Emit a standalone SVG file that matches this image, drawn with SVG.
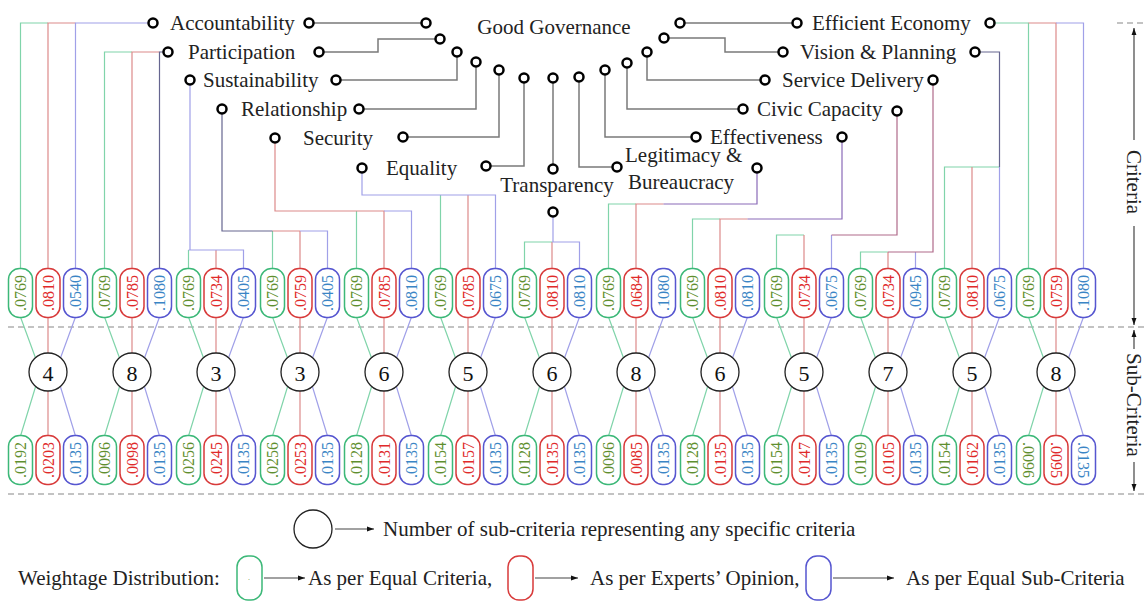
<svg xmlns="http://www.w3.org/2000/svg" xmlns:xlink="http://www.w3.org/1999/xlink" width="1145" height="607" viewBox="0 0 1145 607" font-family="'Liberation Serif', 'Times New Roman', serif">
<style>
text{font-family:"Liberation Serif","Times New Roman",serif;fill:#222}
.lb{font-size:21px}
.n{font-size:16px;text-anchor:middle;dominant-baseline:central}
.cn{font-size:22px;text-anchor:middle;dominant-baseline:central;fill:#111}
.g{stroke:#3cb878;fill:#fff;stroke-width:1.5}
.r{stroke:#d83a3a;fill:#fff;stroke-width:1.5}
.b{stroke:#5656d0;fill:#fff;stroke-width:1.5}
.tg{fill:#5f8f2f}.tr{fill:#e02a2a}.tb{fill:#3a85c5}
.cg,.cr,.cb,.cp,.cm,.cd{fill:none;stroke-width:1.2}
.cg{stroke:#80d4aa}.cr{stroke:#dc8a8a}.cb{stroke:#a0a0e8}.cp{stroke:#8a6ab8}.cm{stroke:#b06a8a}.cd{stroke:#666690}
.tree{fill:none;stroke:#7a7a7a;stroke-width:1.5}
.nd{fill:#fff;stroke:#000;stroke-width:2.5}
.big{fill:#fff;stroke:#222;stroke-width:1.3}
.dash{stroke:#888;stroke-width:1.2;stroke-dasharray:6 4}
.ar{stroke:#444;stroke-width:1.2;fill:none}
</style>
<defs>
<rect id="bx" x="-12" y="-24.5" width="24" height="49" rx="11"/>
<marker id="ah" viewBox="0 0 10 10" refX="10" refY="5" markerWidth="7" markerHeight="7" orient="auto" markerUnits="userSpaceOnUse"><path d="M0,1.5 L10,5 L0,8.5 z" fill="#111"/></marker>
</defs>
<rect width="1145" height="607" fill="#fff"/>

<g id="separators">
<path class="dash" d="M8 327 H1145 M8 494 H1145 M1117 23 H1145"/>
</g>

<g id="connectors">
<path class="tree" d="M313 23 H421 M323 52 H378 V39 H435 M340 80 H457 V57 M363 109 H476 V67 M407 137 H499 V75 M490 166 H524 V83 M553 83 V164 M579 82 V167 H612 M605 75 V137 H691 M627 68 V109 H738 M647 57 V80 H760 M669 38 H725 V52 H778 M685 23 H792"/>
<path class="cg" d="M20.5 269 V23 H48 M104.5 269 V52 H132 M188.5 269 V250 M272.5 269 V231 M356.5 269 V211 M440.5 269 V195 M524.5 269 V242 H552 M608.5 269 V204 H636 M692.5 269 V219 H720 M776.5 269 V235 H804 M860.5 269 V252 H888 M944.5 269 V167 H999.5 M1028.5 269 V23 H994.5"/>
<path class="cr" d="M48 269 V23 H75.5 M132 269 V52 H159.5 M216 269 V250 M300 269 V231 M275 143 V211 H384 V269 M468 269 V195 M552 269 V242 M636 269 V204 H663.5 M720 269 V219 H747.5 M804 269 V235 M888 269 V252 M972 269 V167 M1056 269 V23 H1028.5 M272.5 231 H300"/>
<path class="cb" d="M75.5 269 V23 H148.5 M190 85 V250 M188.5 250 H243.5 V269 M300 231 H327.5 V269 M384 211 H411.5 V269 M362 173 V195 H495.5 V269 M552 242 H579.5 V269 M553 217 V242 M831.5 269 V235 M915.5 269 V252 M999.5 167 V269 M1083.5 269 V23 H1056"/>
<path class="cd" d="M159.5 269 V52 H163.5 M222 114 V231 H272.5 M979.5 52 H999.5 V167"/>
<path class="cp" d="M757 173 V204 H663.5 M842 142 V219 H747.5"/>
<path class="cm" d="M897 116 V235 H831.5 M933 85 V252 H888"/>
<path class="cg" d="M20.5 317 l16.5 45 M20.5 436 l16.5 -54 M104.5 317 l16.5 45 M104.5 436 l16.5 -54 M188.5 317 l16.5 45 M188.5 436 l16.5 -54 M272.5 317 l16.5 45 M272.5 436 l16.5 -54 M356.5 317 l16.5 45 M356.5 436 l16.5 -54 M440.5 317 l16.5 45 M440.5 436 l16.5 -54 M524.5 317 l16.5 45 M524.5 436 l16.5 -54 M608.5 317 l16.5 45 M608.5 436 l16.5 -54 M692.5 317 l16.5 45 M692.5 436 l16.5 -54 M776.5 317 l16.5 45 M776.5 436 l16.5 -54 M860.5 317 l16.5 45 M860.5 436 l16.5 -54 M944.5 317 l16.5 45 M944.5 436 l16.5 -54 M1028.5 317 l16.5 45 M1028.5 436 l16.5 -54"/>
<path class="cr" d="M48 317 V436 M132 317 V436 M216 317 V436 M300 317 V436 M384 317 V436 M468 317 V436 M552 317 V436 M636 317 V436 M720 317 V436 M804 317 V436 M888 317 V436 M972 317 V436 M1056 317 V436"/>
<path class="cb" d="M75.5 317 l-16.5 45 M75.5 436 l-16.5 -54 M159.5 317 l-16.5 45 M159.5 436 l-16.5 -54 M243.5 317 l-16.5 45 M243.5 436 l-16.5 -54 M327.5 317 l-16.5 45 M327.5 436 l-16.5 -54 M411.5 317 l-16.5 45 M411.5 436 l-16.5 -54 M495.5 317 l-16.5 45 M495.5 436 l-16.5 -54 M579.5 317 l-16.5 45 M579.5 436 l-16.5 -54 M663.5 317 l-16.5 45 M663.5 436 l-16.5 -54 M747.5 317 l-16.5 45 M747.5 436 l-16.5 -54 M831.5 317 l-16.5 45 M831.5 436 l-16.5 -54 M915.5 317 l-16.5 45 M915.5 436 l-16.5 -54 M999.5 317 l-16.5 45 M999.5 436 l-16.5 -54 M1083.5 317 l-16.5 45 M1083.5 436 l-16.5 -54"/>
</g>

<g id="good-governance">
<text class="lb" x="554" y="34" text-anchor="middle">Good Governance</text>
<circle class="nd" cx="426" cy="23" r="4.5"/><circle class="nd" cx="440" cy="39" r="4.5"/><circle class="nd" cx="457" cy="52" r="4.5"/><circle class="nd" cx="476" cy="62" r="4.5"/><circle class="nd" cx="499" cy="70" r="4.5"/><circle class="nd" cx="524" cy="78" r="4.5"/><circle class="nd" cx="553" cy="78" r="4.5"/><circle class="nd" cx="579" cy="77" r="4.5"/><circle class="nd" cx="605" cy="70" r="4.5"/><circle class="nd" cx="627" cy="63" r="4.5"/><circle class="nd" cx="647" cy="52" r="4.5"/><circle class="nd" cx="664" cy="38" r="4.5"/><circle class="nd" cx="680" cy="23" r="4.5"/>
</g>

<g id="c-accountability"><circle class="nd" cx="153" cy="23" r="4.5"/><text class="lb" x="170" y="30">Accountability</text><circle class="nd" cx="309" cy="23" r="4.5"/></g>
<g id="c-participation"><circle class="nd" cx="168" cy="52" r="4.5"/><text class="lb" x="188" y="59">Participation</text><circle class="nd" cx="319" cy="52" r="4.5"/></g>
<g id="c-sustainability"><circle class="nd" cx="190" cy="80" r="4.5"/><text class="lb" x="203" y="87">Sustainability</text><circle class="nd" cx="336" cy="80" r="4.5"/></g>
<g id="c-relationship"><circle class="nd" cx="222" cy="109" r="4.5"/><text class="lb" x="241" y="116">Relationship</text><circle class="nd" cx="359" cy="109" r="4.5"/></g>
<g id="c-security"><circle class="nd" cx="275" cy="138" r="4.5"/><text class="lb" x="303" y="145">Security</text><circle class="nd" cx="403" cy="137" r="4.5"/></g>
<g id="c-equality"><circle class="nd" cx="362" cy="168" r="4.5"/><text class="lb" x="386" y="175">Equality</text><circle class="nd" cx="486" cy="166" r="4.5"/></g>
<g id="c-transparency"><circle class="nd" cx="553" cy="169" r="4.5"/><text class="lb" x="557" y="192" text-anchor="middle">Transparency</text><circle class="nd" cx="553" cy="212" r="4.5"/></g>
<g id="c-legitimacy"><circle class="nd" cx="617" cy="167" r="4.5"/><text class="lb" x="625" y="162">Legitimacy &amp;</text><text class="lb" x="628" y="189">Bureaucracy</text><circle class="nd" cx="757" cy="168" r="4.5"/></g>
<g id="c-effectiveness"><circle class="nd" cx="696" cy="137" r="4.5"/><text class="lb" x="710" y="144">Effectiveness</text><circle class="nd" cx="842" cy="137" r="4.5"/></g>
<g id="c-civic"><circle class="nd" cx="743" cy="109" r="4.5"/><text class="lb" x="757" y="116">Civic Capacity</text><circle class="nd" cx="897" cy="111" r="4.5"/></g>
<g id="c-service"><circle class="nd" cx="765" cy="80" r="4.5"/><text class="lb" x="782" y="87">Service Delivery</text><circle class="nd" cx="933" cy="80" r="4.5"/></g>
<g id="c-vision"><circle class="nd" cx="783" cy="52" r="4.5"/><text class="lb" x="800" y="59">Vision &amp; Planning</text><circle class="nd" cx="975" cy="52" r="4.5"/></g>
<g id="c-economy"><circle class="nd" cx="797" cy="23" r="4.5"/><text class="lb" x="812" y="30">Efficient Economy</text><circle class="nd" cx="990" cy="23" r="4.5"/></g>

<g id="col1">
<use href="#bx" class="g" x="20.5" y="293"/><text class="n tg" transform="translate(20.5,293) rotate(-90)">.0769</text>
<use href="#bx" class="r" x="48" y="293"/><text class="n tr" transform="translate(48,293) rotate(-90)">.0810</text>
<use href="#bx" class="b" x="75.5" y="293"/><text class="n tb" transform="translate(75.5,293) rotate(-90)">.0540</text>
<circle class="big" cx="48" cy="372" r="19"/><text class="cn" x="48" y="373">4</text>
<use href="#bx" class="g" x="20.5" y="460"/><text class="n tg" transform="translate(20.5,460) rotate(-90)">.0192</text>
<use href="#bx" class="r" x="48" y="460"/><text class="n tr" transform="translate(48,460) rotate(-90)">.0203</text>
<use href="#bx" class="b" x="75.5" y="460"/><text class="n tb" transform="translate(75.5,460) rotate(-90)">.0135</text>
</g>
<g id="col2">
<use href="#bx" class="g" x="104.5" y="293"/><text class="n tg" transform="translate(104.5,293) rotate(-90)">.0769</text>
<use href="#bx" class="r" x="132" y="293"/><text class="n tr" transform="translate(132,293) rotate(-90)">.0785</text>
<use href="#bx" class="b" x="159.5" y="293"/><text class="n tb" transform="translate(159.5,293) rotate(-90)">.1080</text>
<circle class="big" cx="132" cy="372" r="19"/><text class="cn" x="132" y="373">8</text>
<use href="#bx" class="g" x="104.5" y="460"/><text class="n tg" transform="translate(104.5,460) rotate(-90)">.0096</text>
<use href="#bx" class="r" x="132" y="460"/><text class="n tr" transform="translate(132,460) rotate(-90)">.0098</text>
<use href="#bx" class="b" x="159.5" y="460"/><text class="n tb" transform="translate(159.5,460) rotate(-90)">.0135</text>
</g>
<g id="col3">
<use href="#bx" class="g" x="188.5" y="293"/><text class="n tg" transform="translate(188.5,293) rotate(-90)">.0769</text>
<use href="#bx" class="r" x="216" y="293"/><text class="n tr" transform="translate(216,293) rotate(-90)">.0734</text>
<use href="#bx" class="b" x="243.5" y="293"/><text class="n tb" transform="translate(243.5,293) rotate(-90)">.0405</text>
<circle class="big" cx="216" cy="372" r="19"/><text class="cn" x="216" y="373">3</text>
<use href="#bx" class="g" x="188.5" y="460"/><text class="n tg" transform="translate(188.5,460) rotate(-90)">.0256</text>
<use href="#bx" class="r" x="216" y="460"/><text class="n tr" transform="translate(216,460) rotate(-90)">.0245</text>
<use href="#bx" class="b" x="243.5" y="460"/><text class="n tb" transform="translate(243.5,460) rotate(-90)">.0135</text>
</g>
<g id="col4">
<use href="#bx" class="g" x="272.5" y="293"/><text class="n tg" transform="translate(272.5,293) rotate(-90)">.0769</text>
<use href="#bx" class="r" x="300" y="293"/><text class="n tr" transform="translate(300,293) rotate(-90)">.0759</text>
<use href="#bx" class="b" x="327.5" y="293"/><text class="n tb" transform="translate(327.5,293) rotate(-90)">.0405</text>
<circle class="big" cx="300" cy="372" r="19"/><text class="cn" x="300" y="373">3</text>
<use href="#bx" class="g" x="272.5" y="460"/><text class="n tg" transform="translate(272.5,460) rotate(-90)">.0256</text>
<use href="#bx" class="r" x="300" y="460"/><text class="n tr" transform="translate(300,460) rotate(-90)">.0253</text>
<use href="#bx" class="b" x="327.5" y="460"/><text class="n tb" transform="translate(327.5,460) rotate(-90)">.0135</text>
</g>
<g id="col5">
<use href="#bx" class="g" x="356.5" y="293"/><text class="n tg" transform="translate(356.5,293) rotate(-90)">.0769</text>
<use href="#bx" class="r" x="384" y="293"/><text class="n tr" transform="translate(384,293) rotate(-90)">.0785</text>
<use href="#bx" class="b" x="411.5" y="293"/><text class="n tb" transform="translate(411.5,293) rotate(-90)">.0810</text>
<circle class="big" cx="384" cy="372" r="19"/><text class="cn" x="384" y="373">6</text>
<use href="#bx" class="g" x="356.5" y="460"/><text class="n tg" transform="translate(356.5,460) rotate(-90)">.0128</text>
<use href="#bx" class="r" x="384" y="460"/><text class="n tr" transform="translate(384,460) rotate(-90)">.0131</text>
<use href="#bx" class="b" x="411.5" y="460"/><text class="n tb" transform="translate(411.5,460) rotate(-90)">.0135</text>
</g>
<g id="col6">
<use href="#bx" class="g" x="440.5" y="293"/><text class="n tg" transform="translate(440.5,293) rotate(-90)">.0769</text>
<use href="#bx" class="r" x="468" y="293"/><text class="n tr" transform="translate(468,293) rotate(-90)">.0785</text>
<use href="#bx" class="b" x="495.5" y="293"/><text class="n tb" transform="translate(495.5,293) rotate(-90)">.0675</text>
<circle class="big" cx="468" cy="372" r="19"/><text class="cn" x="468" y="373">5</text>
<use href="#bx" class="g" x="440.5" y="460"/><text class="n tg" transform="translate(440.5,460) rotate(-90)">.0154</text>
<use href="#bx" class="r" x="468" y="460"/><text class="n tr" transform="translate(468,460) rotate(-90)">.0157</text>
<use href="#bx" class="b" x="495.5" y="460"/><text class="n tb" transform="translate(495.5,460) rotate(-90)">.0135</text>
</g>
<g id="col7">
<use href="#bx" class="g" x="524.5" y="293"/><text class="n tg" transform="translate(524.5,293) rotate(-90)">.0769</text>
<use href="#bx" class="r" x="552" y="293"/><text class="n tr" transform="translate(552,293) rotate(-90)">.0810</text>
<use href="#bx" class="b" x="579.5" y="293"/><text class="n tb" transform="translate(579.5,293) rotate(-90)">.0810</text>
<circle class="big" cx="552" cy="372" r="19"/><text class="cn" x="552" y="373">6</text>
<use href="#bx" class="g" x="524.5" y="460"/><text class="n tg" transform="translate(524.5,460) rotate(-90)">.0128</text>
<use href="#bx" class="r" x="552" y="460"/><text class="n tr" transform="translate(552,460) rotate(-90)">.0135</text>
<use href="#bx" class="b" x="579.5" y="460"/><text class="n tb" transform="translate(579.5,460) rotate(-90)">.0135</text>
</g>
<g id="col8">
<use href="#bx" class="g" x="608.5" y="293"/><text class="n tg" transform="translate(608.5,293) rotate(-90)">.0769</text>
<use href="#bx" class="r" x="636" y="293"/><text class="n tr" transform="translate(636,293) rotate(-90)">.0684</text>
<use href="#bx" class="b" x="663.5" y="293"/><text class="n tb" transform="translate(663.5,293) rotate(-90)">.1080</text>
<circle class="big" cx="636" cy="372" r="19"/><text class="cn" x="636" y="373">8</text>
<use href="#bx" class="g" x="608.5" y="460"/><text class="n tg" transform="translate(608.5,460) rotate(-90)">.0096</text>
<use href="#bx" class="r" x="636" y="460"/><text class="n tr" transform="translate(636,460) rotate(-90)">.0085</text>
<use href="#bx" class="b" x="663.5" y="460"/><text class="n tb" transform="translate(663.5,460) rotate(-90)">.0135</text>
</g>
<g id="col9">
<use href="#bx" class="g" x="692.5" y="293"/><text class="n tg" transform="translate(692.5,293) rotate(-90)">.0769</text>
<use href="#bx" class="r" x="720" y="293"/><text class="n tr" transform="translate(720,293) rotate(-90)">.0810</text>
<use href="#bx" class="b" x="747.5" y="293"/><text class="n tb" transform="translate(747.5,293) rotate(-90)">.0810</text>
<circle class="big" cx="720" cy="372" r="19"/><text class="cn" x="720" y="373">6</text>
<use href="#bx" class="g" x="692.5" y="460"/><text class="n tg" transform="translate(692.5,460) rotate(-90)">.0128</text>
<use href="#bx" class="r" x="720" y="460"/><text class="n tr" transform="translate(720,460) rotate(-90)">.0135</text>
<use href="#bx" class="b" x="747.5" y="460"/><text class="n tb" transform="translate(747.5,460) rotate(-90)">.0135</text>
</g>
<g id="col10">
<use href="#bx" class="g" x="776.5" y="293"/><text class="n tg" transform="translate(776.5,293) rotate(-90)">.0769</text>
<use href="#bx" class="r" x="804" y="293"/><text class="n tr" transform="translate(804,293) rotate(-90)">.0734</text>
<use href="#bx" class="b" x="831.5" y="293"/><text class="n tb" transform="translate(831.5,293) rotate(-90)">.0675</text>
<circle class="big" cx="804" cy="372" r="19"/><text class="cn" x="804" y="373">5</text>
<use href="#bx" class="g" x="776.5" y="460"/><text class="n tg" transform="translate(776.5,460) rotate(-90)">.0154</text>
<use href="#bx" class="r" x="804" y="460"/><text class="n tr" transform="translate(804,460) rotate(-90)">.0147</text>
<use href="#bx" class="b" x="831.5" y="460"/><text class="n tb" transform="translate(831.5,460) rotate(-90)">.0135</text>
</g>
<g id="col11">
<use href="#bx" class="g" x="860.5" y="293"/><text class="n tg" transform="translate(860.5,293) rotate(-90)">.0769</text>
<use href="#bx" class="r" x="888" y="293"/><text class="n tr" transform="translate(888,293) rotate(-90)">.0734</text>
<use href="#bx" class="b" x="915.5" y="293"/><text class="n tb" transform="translate(915.5,293) rotate(-90)">.0945</text>
<circle class="big" cx="888" cy="372" r="19"/><text class="cn" x="888" y="373">7</text>
<use href="#bx" class="g" x="860.5" y="460"/><text class="n tg" transform="translate(860.5,460) rotate(-90)">.0109</text>
<use href="#bx" class="r" x="888" y="460"/><text class="n tr" transform="translate(888,460) rotate(-90)">.0105</text>
<use href="#bx" class="b" x="915.5" y="460"/><text class="n tb" transform="translate(915.5,460) rotate(-90)">.0135</text>
</g>
<g id="col12">
<use href="#bx" class="g" x="944.5" y="293"/><text class="n tg" transform="translate(944.5,293) rotate(-90)">.0769</text>
<use href="#bx" class="r" x="972" y="293"/><text class="n tr" transform="translate(972,293) rotate(-90)">.0810</text>
<use href="#bx" class="b" x="999.5" y="293"/><text class="n tb" transform="translate(999.5,293) rotate(-90)">.0675</text>
<circle class="big" cx="972" cy="372" r="19"/><text class="cn" x="972" y="373">5</text>
<use href="#bx" class="g" x="944.5" y="460"/><text class="n tg" transform="translate(944.5,460) rotate(-90)">.0154</text>
<use href="#bx" class="r" x="972" y="460"/><text class="n tr" transform="translate(972,460) rotate(-90)">.0162</text>
<use href="#bx" class="b" x="999.5" y="460"/><text class="n tb" transform="translate(999.5,460) rotate(-90)">.0135</text>
</g>
<g id="col13">
<use href="#bx" class="g" x="1028.5" y="293"/><text class="n tg" transform="translate(1028.5,293) rotate(-90)">.0769</text>
<use href="#bx" class="r" x="1056" y="293"/><text class="n tr" transform="translate(1056,293) rotate(-90)">.0759</text>
<use href="#bx" class="b" x="1083.5" y="293"/><text class="n tb" transform="translate(1083.5,293) rotate(-90)">.1080</text>
<circle class="big" cx="1056" cy="372" r="19"/><text class="cn" x="1056" y="373">8</text>
<use href="#bx" class="g" x="1028.5" y="460"/><text class="n tg" transform="translate(1028.5,460) rotate(90)">.0096</text>
<use href="#bx" class="r" x="1056" y="460"/><text class="n tr" transform="translate(1056,460) rotate(90)">.0095</text>
<use href="#bx" class="b" x="1083.5" y="460"/><text class="n tb" transform="translate(1083.5,460) rotate(90)">.0135</text>
</g>

<g id="level-labels">
<path class="ar" d="M1134 140 V28" marker-end="url(#ah)"/>
<text class="lb" text-anchor="middle" dominant-baseline="central" transform="translate(1134,182) rotate(90)">Criteria</text>
<path class="ar" d="M1134 226 V325" marker-end="url(#ah)"/>
<path class="ar" d="M1134 349 V330" marker-end="url(#ah)"/>
<text class="lb" text-anchor="middle" dominant-baseline="central" transform="translate(1134,405) rotate(90)">Sub-Criteria</text>
<path class="ar" d="M1134 462 V491" marker-end="url(#ah)"/>
</g>

<g id="legend">
<circle class="big" cx="313" cy="529" r="19"/>
<path class="ar" d="M335 529 H374" marker-end="url(#ah)"/>
<text class="lb" x="383" y="536">Number of sub-criteria representing any specific criteria</text>
<text class="lb" x="18" y="585">Weightage Distribution:</text>
<rect class="g" x="237" y="556" width="25" height="44" rx="11"/>
<text x="249" y="580" font-size="8" class="tg" text-anchor="middle">.</text>
<path class="ar" d="M264 578 H305" marker-end="url(#ah)"/>
<text class="lb" x="308" y="585">As per Equal Criteria,</text>
<rect class="r" x="508" y="556" width="25" height="44" rx="11"/>
<path class="ar" d="M535 578 H578" marker-end="url(#ah)"/>
<text class="lb" x="590" y="585">As per Experts’ Opinion,</text>
<rect class="b" x="806" y="556" width="25" height="44" rx="11"/>
<path class="ar" d="M833 578 H894" marker-end="url(#ah)"/>
<text class="lb" x="906" y="585">As per Equal Sub-Criteria</text>
</g>
</svg>
